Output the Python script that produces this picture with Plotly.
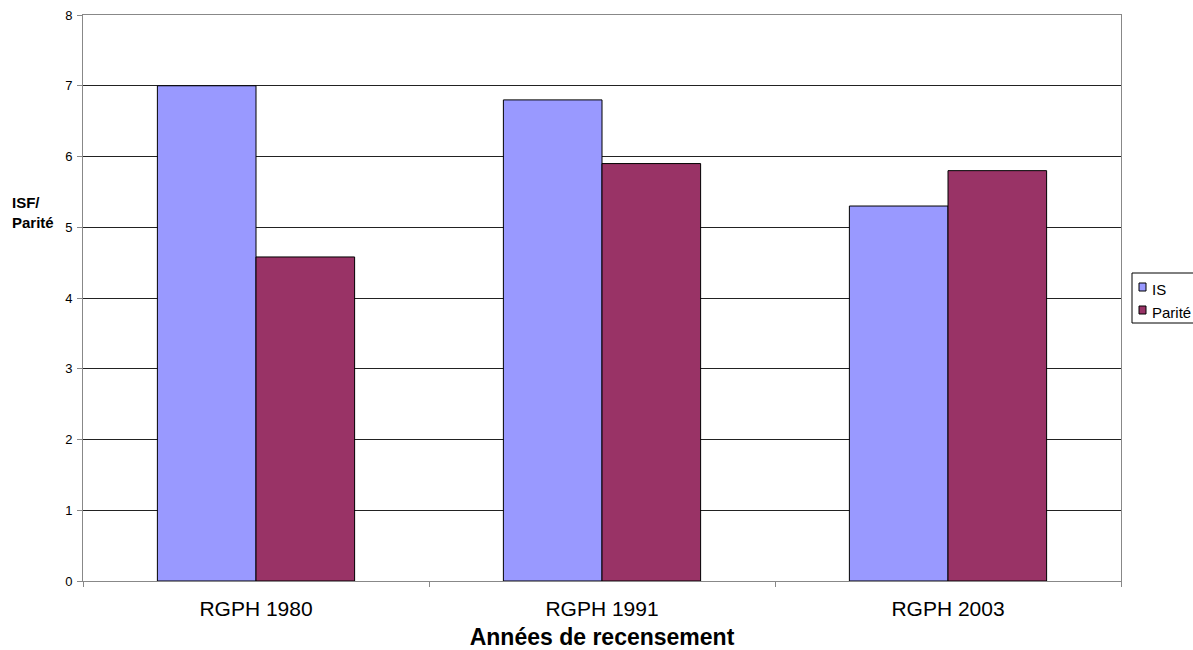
import plotly.graph_objects as go

categories = ["RGPH 1980", "RGPH 1991", "RGPH 2003"]
isf_values = [7.0, 6.8, 5.3]
parite_values = [4.58, 5.9, 5.8]
series_names = ["IS", "Parité"]
series_colors = ["#9999FF", "#993366"]
y_ticks = [0, 1, 2, 3, 4, 5, 6, 7, 8]

FONT = "Arial, Liberation Sans, sans-serif"
W, H = 1193, 650
M_L, M_R, M_T, M_B = 83, 72, 15, 69
PW, PH = W - M_L - M_R, H - M_T - M_B


def px_x(px):
    """Pixel column -> paper x coordinate."""
    return (px - M_L) / PW


def px_y(py):
    """Pixel row (from top) -> paper y coordinate."""
    return (H - M_B - py) / PH


fig = go.Figure()
for name, color, values in zip(series_names, series_colors, [isf_values, parite_values]):
    fig.add_trace(go.Bar(
        x=categories, y=values, name=name,
        marker=dict(color=color, line=dict(color="#000000", width=1)),
    ))

fig.update_layout(
    width=W, height=H,
    margin=dict(l=M_L, r=M_R, t=M_T, b=M_B, autoexpand=False),
    paper_bgcolor="white", plot_bgcolor="white",
    barmode="group", bargap=0.43, bargroupgap=0,
    font=dict(family=FONT, size=13, color="#000000"),
    showlegend=False,
    xaxis=dict(
        showline=True, linecolor="#888888", linewidth=1, mirror=True,
        ticks="outside", tickson="boundaries", ticklen=5, tickcolor="#888888",
        showgrid=False,
        tickfont=dict(family=FONT, size=21),
        ticklabelstandoff=9,
        title=dict(text="<b>Années de recensement</b>",
                   font=dict(family=FONT, size=23), standoff=15),
    ),
    yaxis=dict(
        range=[0, 8], tickvals=y_ticks,
        showline=True, linecolor="#888888", linewidth=1, mirror=True,
        ticks="outside", ticklen=5, tickcolor="#888888",
        showgrid=True, gridcolor="#222222", gridwidth=1,
        zeroline=False,
        tickfont=dict(family=FONT, size=13),
        ticklabelstandoff=2,
    ),
)

# Axis label for the value scale, set horizontally at the left
fig.add_annotation(
    text="<b>ISF/<br>Parité</b>", xref="paper", yref="paper",
    x=px_x(10), y=px_y(212), xanchor="left", yanchor="middle", align="left",
    showarrow=False, font=dict(family=FONT, size=15),
)

# Legend box at the right edge (runs past the page border)
fig.add_shape(
    type="rect", xref="paper", yref="paper",
    x0=px_x(1132), x1=px_x(1210), y0=px_y(323), y1=px_y(273),
    line=dict(color="#000000", width=1), fillcolor="white", layer="above",
)
for i, (name, color) in enumerate(zip(series_names, series_colors)):
    sy = 287 + i * 23
    fig.add_shape(
        type="rect", xref="paper", yref="paper",
        x0=px_x(1139), x1=px_x(1146), y0=px_y(sy + 4), y1=px_y(sy - 4),
        line=dict(color="#000000", width=1), fillcolor=color, layer="above",
    )
    fig.add_annotation(
        text=name, xref="paper", yref="paper",
        x=px_x(1150), y=px_y(sy + 2), xanchor="left", yanchor="middle",
        showarrow=False, font=dict(family=FONT, size=15),
    )

fig.write_html("out.html")
